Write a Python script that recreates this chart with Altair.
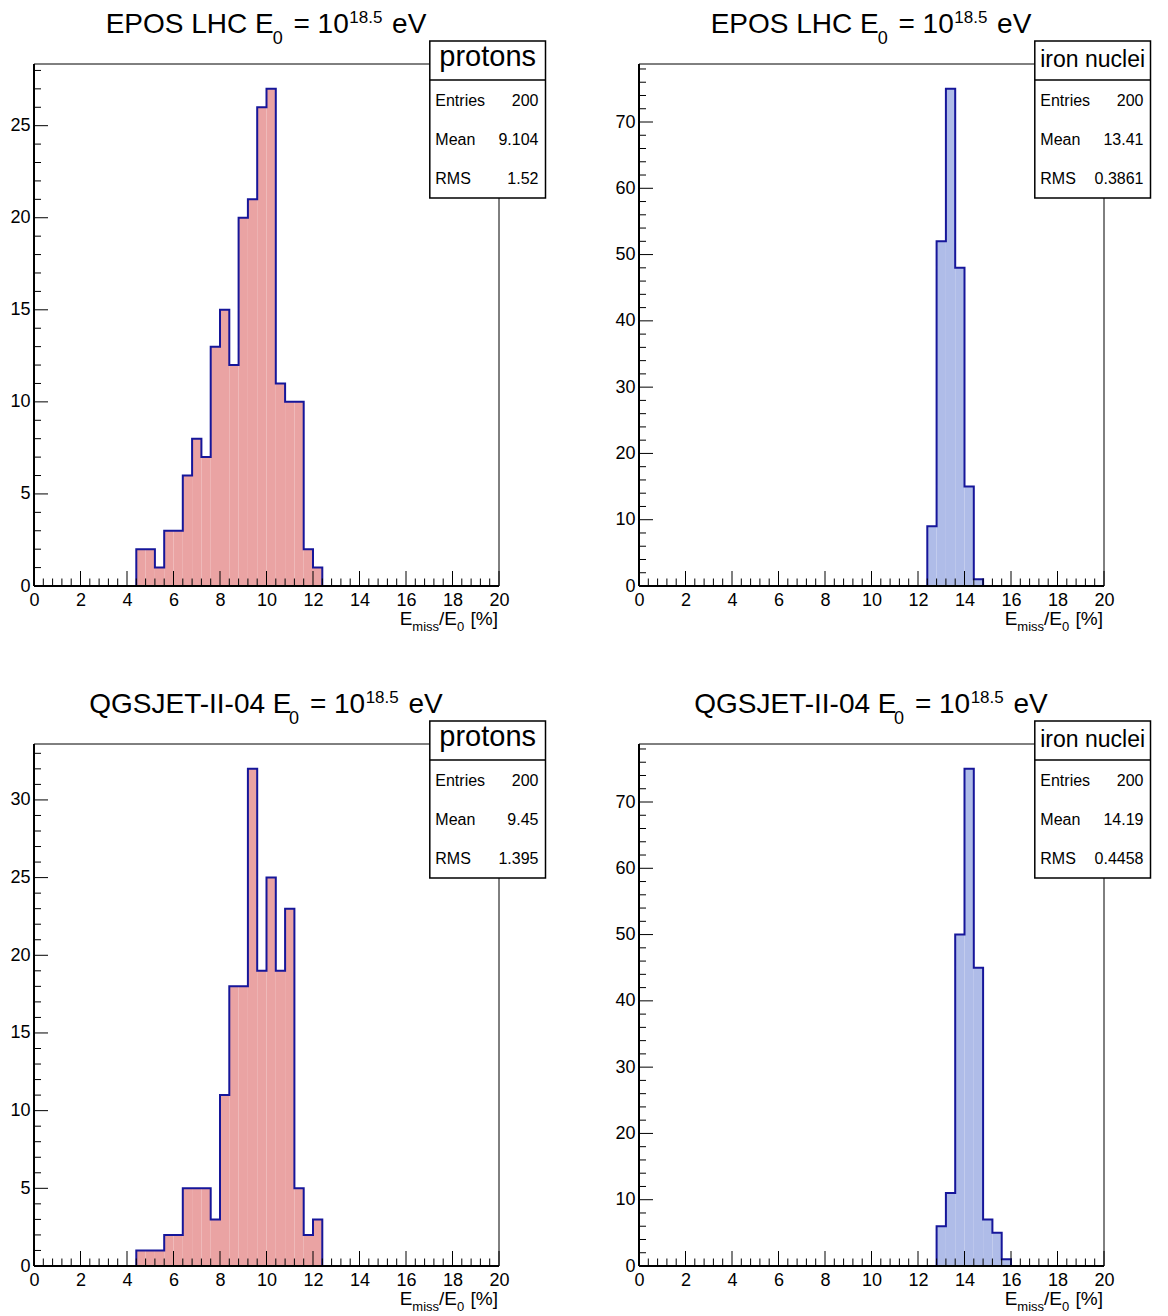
import altair as alt
import pandas as pd

# ---------------- data ----------------
BIN_W = 0.4
models = ["EPOS LHC", "EPOS LHC", "QGSJET-II-04", "QGSJET-II-04"]
primaries = ["protons", "iron nuclei", "protons", "iron nuclei"]
first_bin = [4.4, 12.4, 4.4, 12.8]
counts_epos_p = [2, 2, 1, 3, 3, 6, 8, 7, 13, 15, 12, 20, 21, 26, 27, 11, 10, 10, 2, 1]
counts_epos_fe = [9, 52, 75, 48, 15, 1]
counts_qgs_p = [1, 1, 1, 2, 2, 5, 5, 5, 3, 11, 18, 18, 32, 19, 25, 19, 23, 5, 2, 3]
counts_qgs_fe = [6, 11, 50, 75, 45, 7, 5, 1]
counts_all = [counts_epos_p, counts_epos_fe, counts_qgs_p, counts_qgs_fe]
entries = ["200", "200", "200", "200"]
means = ["9.104", "13.41", "9.45", "14.19"]
rmss = ["1.52", "0.3861", "1.395", "0.4458"]
y_max = [28.35, 78.75, 33.6, 78.75]
y_major = [5, 10, 5, 10]
y_minor = [1, 2, 1, 2]
x_major = [0, 2, 4, 6, 8, 10, 12, 14, 16, 18, 20]

# ---------------- style ----------------
W, H = 465, 522
FONT = "Liberation Sans"
LINE = "#16169a"
FILLS = {"protons": "#eaa3a3", "iron nuclei": "#afbce8"}

ARIAL = {' ': 278, 'E': 667, 'P': 667, 'O': 778, 'S': 667, 'L': 556, 'H': 722,
         'C': 722, 'Q': 778, 'G': 778, 'J': 500, 'T': 611, 'I': 278, '-': 333,
         '.': 278, '=': 584, 'e': 556, 'V': 667, 'm': 833, 'i': 222, 's': 500,
         '/': 278, '[': 278, '%': 889, ']': 278}


def tw(s, size):
    return sum(ARIAL.get(c, 556) for c in s) * size / 1000.0


one = pd.DataFrame({"a": [0]})


def text_seq(segs, x_start, y_base):
    """segs: list of (text, size, dy, gap_after); leading spaces become offsets
    (SVG collapses them)."""
    layers = []
    x = x_start
    for txt, size, dy, gap in segs:
        stripped = txt.lstrip(" ")
        x += tw(txt[: len(txt) - len(stripped)], size)
        layers.append(
            alt.Chart(one).mark_text(text=stripped, font=FONT, fontSize=size, align="left",
                                     baseline="alphabetic", color="black")
            .encode(x=alt.value(x), y=alt.value(y_base + dy))
        )
        x += tw(stripped, size) + gap
    return layers


def seq_width(segs):
    return sum(tw(t, s) + g for t, s, d, g in segs)


def panel(i):
    start = first_bin[i]
    counts = counts_all[i]
    lo = [round(start + k * BIN_W, 2) for k in range(len(counts))]
    hi = [round(v + BIN_W, 2) for v in lo]
    bars_df = pd.DataFrame({"lo": lo, "hi": hi, "n": counts})
    sx = [lo[0]] + lo + [hi[-1], hi[-1]]
    sy = [0] + counts + [counts[-1], 0]
    step_df = pd.DataFrame({"sx": sx, "sy": sy, "k": list(range(len(sx)))})

    ymax = y_max[i]
    xs = alt.Scale(domain=[0, 20], nice=False, zero=False)
    ys = alt.Scale(domain=[0, ymax], nice=False, zero=True)
    ymaj = [v for v in range(0, int(ymax) + 1, y_major[i])]
    ymin = [v for v in range(0, int(ymax) + 1, y_minor[i]) if v % y_major[i] != 0]
    xmin = [round(k * 0.4, 2) for k in range(51) if k % 5 != 0]

    ax_x = alt.Axis(values=x_major, ticks=False, tickSize=0, domain=False, grid=False,
                    labelFont=FONT, labelFontSize=18, labelColor="black", labelPadding=5,
                    labelFlush=False, title=None)
    ax_y = alt.Axis(values=ymaj, ticks=False, tickSize=0, domain=False, grid=False,
                    labelFont=FONT, labelFontSize=18, labelColor="black", labelPadding=4,
                    labelFlush=False, title=None)

    fill = FILLS[primaries[i]]
    layers = []
    if i == 0:
        layers.append(alt.Chart(one).mark_rect(fill="white").encode(
            x=alt.value(-25.5), x2=alt.value(-25), y=alt.value(-55), y2=alt.value(-54.5)))
    layers.append(alt.Chart(bars_df).mark_rect(fill=fill, strokeWidth=0).encode(
        x=alt.X("lo:Q", scale=xs, axis=ax_x), x2="hi:Q",
        y=alt.Y("n:Q", scale=ys, axis=ax_y), y2=alt.datum(0)))
    layers.append(alt.Chart(step_df).mark_line(interpolate="step-after", color=LINE,
                                               strokeWidth=2).encode(
        x=alt.X("sx:Q", scale=xs, axis=ax_x), y=alt.Y("sy:Q", scale=ys, axis=ax_y),
        order="k:Q"))
    # ticks (inside, ROOT style)
    layers.append(alt.Chart(pd.DataFrame({"t": x_major})).mark_rule(color="black", strokeWidth=1).encode(
        x=alt.X("t:Q", scale=xs, axis=ax_x), y=alt.value(H), y2=alt.value(H - 15)))
    layers.append(alt.Chart(pd.DataFrame({"t": xmin})).mark_rule(color="black", strokeWidth=1).encode(
        x=alt.X("t:Q", scale=xs, axis=ax_x), y=alt.value(H), y2=alt.value(H - 7.5)))
    layers.append(alt.Chart(pd.DataFrame({"t": ymaj})).mark_rule(color="black", strokeWidth=1).encode(
        y=alt.Y("t:Q", scale=ys, axis=ax_y), x=alt.value(0), x2=alt.value(14)))
    layers.append(alt.Chart(pd.DataFrame({"t": ymin})).mark_rule(color="black", strokeWidth=1).encode(
        y=alt.Y("t:Q", scale=ys, axis=ax_y), x=alt.value(0), x2=alt.value(7)))
    # frame
    layers.append(alt.Chart(one).mark_rule(color="black", strokeWidth=1).encode(
        x=alt.value(0), x2=alt.value(W), y=alt.value(0), y2=alt.value(0)))
    layers.append(alt.Chart(one).mark_rule(color="black", strokeWidth=1).encode(
        x=alt.value(W), x2=alt.value(W), y=alt.value(0), y2=alt.value(H)))
    layers.append(alt.Chart(one).mark_rule(color="black", strokeWidth=2).encode(
        x=alt.value(0), x2=alt.value(W), y=alt.value(H), y2=alt.value(H)))
    layers.append(alt.Chart(one).mark_rule(color="black", strokeWidth=2).encode(
        x=alt.value(0), x2=alt.value(0), y=alt.value(0), y2=alt.value(H)))
    # stats box
    bx0, bx1, by0, by1, bdiv = 395.8, 511.5, -23, 134, 16
    layers.append(alt.Chart(one).mark_rect(fill="white", stroke="black", strokeWidth=1.5).encode(
        x=alt.value(bx0), x2=alt.value(bx1), y=alt.value(by0), y2=alt.value(by1)))
    layers.append(alt.Chart(one).mark_rule(color="black", strokeWidth=1.5).encode(
        x=alt.value(bx0), x2=alt.value(bx1), y=alt.value(bdiv), y2=alt.value(bdiv)))
    name = primaries[i]
    nsize = 29 if name == "protons" else 23
    nbase = 1.5 if name == "protons" else 3
    layers.append(alt.Chart(one).mark_text(text=name, font=FONT, fontSize=nsize, align="center",
                                           baseline="alphabetic", color="black").encode(
        x=alt.value((bx0 + bx1) / 2), y=alt.value(nbase)))
    rows = [("Entries", entries[i]), ("Mean", means[i]), ("RMS", rmss[i])]
    for r, (lab, val) in enumerate(rows):
        yb = 41.7 + r * 39.3
        layers.append(alt.Chart(one).mark_text(text=lab, font=FONT, fontSize=16, align="left",
                                               baseline="alphabetic", color="black").encode(
            x=alt.value(bx0 + 5.5), y=alt.value(yb)))
        layers.append(alt.Chart(one).mark_text(text=val, font=FONT, fontSize=16, align="right",
                                               baseline="alphabetic", color="black").encode(
            x=alt.value(bx1 - 7), y=alt.value(yb)))
    # title
    e_gap = -1 if models[i].startswith("EPOS") else -4
    tsegs = [(models[i] + " E", 28, 0, e_gap), ("0", 18, 10.5, 3), (" = 10", 28, 0, 0.5),
             ("18.5", 17, -10.5, 2), (" eV", 28, 0, 0)]
    wt = seq_width(tsegs)
    layers += text_seq(tsegs, 232 - wt / 2, -31)
    # x-axis title
    asegs = [("E", 19, 0, 0), ("miss", 13, 6, 0), ("/E", 19, 0, 0), ("0", 13, 6, 1), (" [%]", 19, 0, 0)]
    wa = seq_width(asegs)
    layers += text_seq(asegs, W - 1 - wa, H + 39)

    return alt.layer(*layers).properties(width=W, height=H)


chart = alt.concat(*[panel(i) for i in range(4)], columns=2,
                   spacing={"row": 158, "column": 140}, bounds="flush").properties(
    padding={"left": 0, "top": 0, "right": 5, "bottom": 5},
    background="white",
).configure_view(stroke=None)

chart.save("out.html", embed_options={"renderer": "svg", "actions": False})
